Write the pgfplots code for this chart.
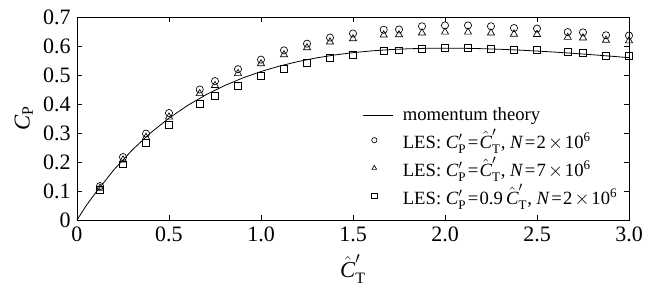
\documentclass[border=0pt]{standalone}
\usepackage{fontspec}
\setmainfont{Liberation Serif}
\usepackage{amsmath}
\usepackage{pgfplots}
\pgfplotsset{compat=1.18}
\pgfplotsset{longline/.style={legend image code/.code={\draw[##1] (0cm,0cm) -- (0.8cm,0cm); \path (0.97cm,0cm);}}}
\newcommand{\CP}{\textit{C}$'_{\text{P}}$}
\newcommand{\CT}{$\hat{\text{\textit{C}}}'_{\text{T}}$}
\newcommand{\eq}{\kern1pt=\kern1pt}
\newcommand{\tm}{\kern1.5pt$\times$\kern1.5pt}
\begin{document}
\fontsize{14}{17}\selectfont
\begin{tikzpicture}
\begin{axis}[
  scale only axis,
  width=414pt, height=152.25pt,
  xmin=0, xmax=3, ymin=0, ymax=0.7,
  xtick={0,0.5,1,1.5,2,2.5,3},
  xticklabels={0,0.5,1.0,1.5,2.0,2.5,3.0},
  ytick={0,0.1,0.2,0.3,0.4,0.5,0.6,0.7},
  yticklabels={0,0.1,0.2,0.3,0.4,0.5,0.6,0.7},
  /pgf/number format/assume math mode=true,
  tick label style={font=\fontsize{16.5}{19}\selectfont},
  major tick length=4pt,
  tick style={black, line width=0.5pt},
  axis line style={line width=0.6pt},
  xlabel={\fontsize{17}{20}\selectfont\CT},
  ylabel={\fontsize{17}{20}\selectfont\textit{C}$_{\text{P}}$},
  xlabel style={yshift=0pt},
  ylabel style={yshift=-2pt},
  legend style={draw=none, fill=none, at={(rel axis cs:0.512,0.58)}, anchor=north west,
    font=\fontsize{14}{17}\selectfont, row sep=0pt, inner sep=2pt},
  legend image post style={mark size=2pt},
  legend cell align=left,
]
\addplot[black, line width=0.6pt, longline] coordinates {
(0,0) (0.05,0.04953) (0.1,0.09286) (0.2,0.17277) (0.3,0.24149) (0.4,0.30053) (0.5,0.35117)
(0.6,0.39451) (0.7,0.43150) (0.8,0.46297) (0.9,0.48959) (1.0,0.51200)
(1.1,0.53072) (1.2,0.54620) (1.3,0.55885) (1.4,0.56902) (1.5,0.57701)
(1.6,0.58309) (1.7,0.58750) (1.8,0.59043) (1.9,0.59208) (2.0,0.59259)
(2.1,0.59212) (2.2,0.59078) (2.3,0.58869) (2.4,0.58594) (2.5,0.58262)
(2.6,0.57879) (2.7,0.57454) (2.8,0.56992) (2.9,0.56498) (3.0,0.55977)
};
\addlegendentry{momentum theory}
\addplot[only marks, mark=o, mark size=2.7pt, black, line width=0.5pt] coordinates {
(0.125,0.117) (0.25,0.217) (0.375,0.298) (0.5,0.369) (0.667,0.450) (0.75,0.479)
(0.875,0.520) (1.0,0.553) (1.125,0.585) (1.25,0.608) (1.375,0.629) (1.5,0.643)
(1.667,0.656) (1.75,0.657) (1.875,0.668) (2.0,0.671) (2.125,0.671) (2.25,0.668)
(2.375,0.662) (2.5,0.660) (2.667,0.648) (2.75,0.647) (2.875,0.637) (3.0,0.636)
};
\addlegendentry{LES: \CP\eq\CT, \textit{N}\eq2\tm10\textsuperscript{6}}
\addplot[only marks, mark=triangle, mark size=3.1pt, black, line width=0.5pt] coordinates {
(0.125,0.110) (0.25,0.207) (0.375,0.285) (0.5,0.355) (0.667,0.436) (0.75,0.464)
(0.875,0.505) (1.0,0.539) (1.125,0.570) (1.25,0.594) (1.375,0.614) (1.5,0.625)
(1.667,0.638) (1.75,0.639) (1.875,0.645) (2.0,0.648) (2.125,0.648) (2.25,0.645)
(2.375,0.641) (2.5,0.640) (2.667,0.630) (2.75,0.628) (2.875,0.620) (3.0,0.618)
};
\addlegendentry{LES: \CP\eq\CT, \textit{N}\eq7\tm10\textsuperscript{6}}
\addplot[only marks, mark=square, mark size=2.6pt, black, line width=0.5pt] coordinates {
(0.125,0.105) (0.25,0.192) (0.375,0.266) (0.5,0.329) (0.667,0.401) (0.75,0.427)
(0.875,0.464) (1.0,0.496) (1.125,0.521) (1.25,0.541) (1.375,0.559) (1.5,0.571)
(1.667,0.583) (1.75,0.585) (1.875,0.591) (2.0,0.593) (2.125,0.593) (2.25,0.591)
(2.375,0.588) (2.5,0.587) (2.667,0.579) (2.75,0.577) (2.875,0.566) (3.0,0.565)
};
\addlegendentry{LES: \CP\eq0.9\,\CT, \textit{N}\eq2\tm10\textsuperscript{6}}
\end{axis}
\pgfresetboundingbox
\path (current axis.south west) ++(-57.75pt,-51.75pt) rectangle ++(483.75pt,216.75pt);
\end{tikzpicture}
\end{document}
